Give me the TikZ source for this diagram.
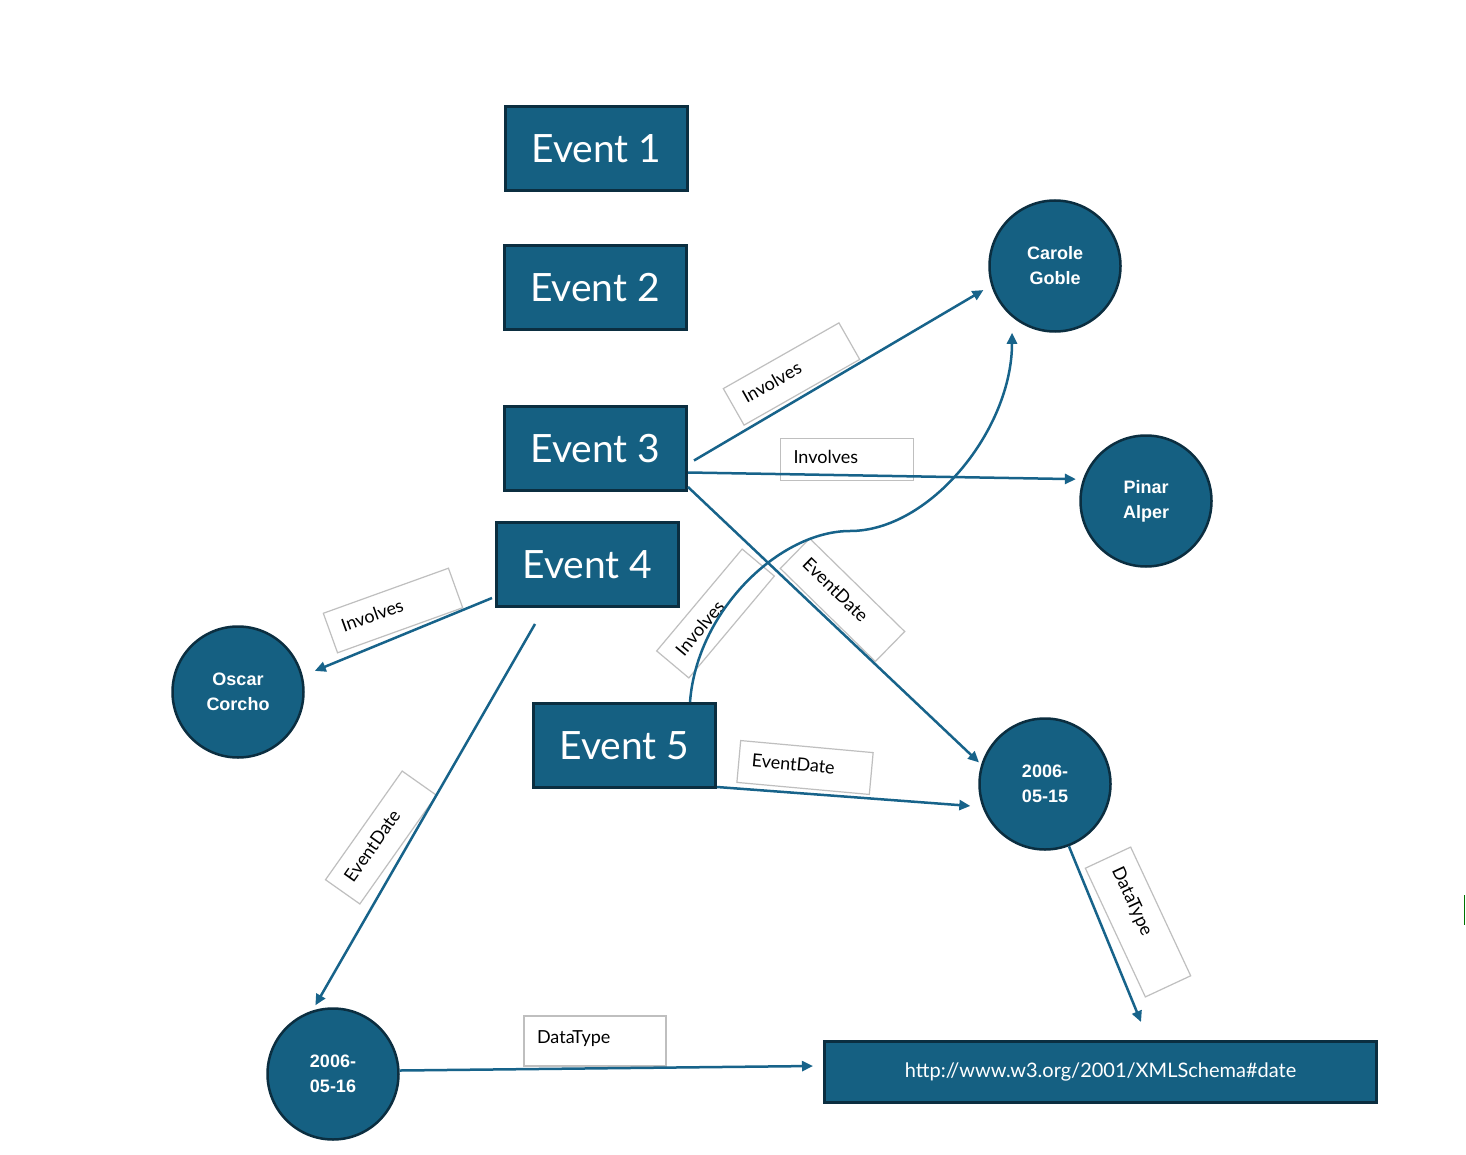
\documentclass[tikz,border=0pt]{standalone}
\usepackage{fontspec}
\setmainfont{Lato}
\newfontfamily\circfont{Liberation Sans}
\usepackage{xcolor}
\usepackage{tikz}
\usetikzlibrary{arrows.meta, positioning, calc}

\definecolor{nodeblue}{HTML}{156082}
\definecolor{nodeline}{HTML}{0B2E40}
\definecolor{linkblue}{HTML}{17638A}
\definecolor{boxgray}{HTML}{BFBFBF}

\tikzset{
  event/.style={draw=nodeline, fill=nodeblue, line width=3pt, text=white,
    minimum width=182pt, minimum height=84pt, inner sep=0pt,
    font=\fontsize{39}{44}\selectfont},
  person/.style={circle, draw=nodeline, fill=nodeblue, line width=2.5pt, text=white,
    minimum size=131pt, inner sep=0pt, align=center,
    font=\circfont\bfseries\fontsize{18}{25}\selectfont},
  urlbox/.style={draw=nodeline, fill=nodeblue, line width=3pt, text=white,
    minimum width=552pt, minimum height=61pt, inner sep=0pt,
    font=\fontsize{20}{24}\selectfont},
  relbox/.style={draw=boxgray, line width=1.2pt, align=left,
    text width=107pt, inner xsep=13pt, inner ysep=4pt,
    text height=21pt, text depth=13pt, font=\fontsize{18}{22}\selectfont},
  typebox/.style={relbox, text width=116pt, text height=23pt, text depth=19pt},
  edge/.style={draw=linkblue, line width=2.5pt, -{Triangle[length=11pt, width=10pt]}}
}

\begin{document}
\begin{tikzpicture}[x=1pt, y=-1pt]
  \fill[white] (0,0) rectangle (1466,1155);
  \useasboundingbox (0,0) rectangle (1466,1155);

  % events
  \node[event] (e1) at (596.5,149) {Event 1};
  \node[event] (e2) at (595,287.5) {Event 2};
  \node[event] (e3) at (595.5,448.5) {Event 3};
  \node[event] (e4) at (587.5,564.5) {Event 4};
  \node[event] (e5) at (624.5,745.5) {Event 5};

  % people and dates
  \node[person] (cg) at (1055,266) {Carole\\Goble};
  \node[person] (pa) at (1146,501) {Pinar\\Alper};
  \node[person] (oc) at (238,692) {Oscar\\Corcho};
  \node[person] (d15) at (1045,784) {2006-\\05-15};
  \node[person] (d16) at (333,1074) {2006-\\05-16};
  \node[urlbox] (url) at (1100.5,1072) {http://www.w3.org/2001/XMLSchema\#date};

  % edge labels
  \node[relbox, rotate=29.6] (l1) at (791.5,374) {Involves};
  \node[relbox] (l2) at (847,459.5) {Involves};
  \node[relbox, rotate=-44.4] (l3) at (842.5,600) {EventDate};
  \node[relbox, rotate=19.8] (l4) at (393,610.5) {Involves};
  \node[relbox, rotate=54.8] (l5) at (381,837.5) {EventDate};
  \node[relbox, rotate=50] (l6) at (715.5,613.5) {Involves};
  \node[relbox, rotate=-5.2] (l7) at (805,767.5) {EventDate};
  \node[typebox, rotate=-65] (l8) at (1138,922) {DataType};
  \node[typebox] (l9) at (595,1041) {DataType};

  % edges
  \draw[edge, shorten >=9pt] ($(e3.east)+(6,12)$) -- (cg.197);
  \draw[edge, shorten >=7pt] ($(e3.east)+(0,24)$) -- (pa.161);
  \draw[edge, shorten >=3pt] ($(e3.south east)+(0,-5)$) -- (d15.163);
  \draw[edge, shorten >=13pt] ($(e4.south west)+(-3,-10)$) -- (oc.14);
  \draw[edge, shorten >=6pt] ($(e4.south west)+(40,16)$) -- (d16.108);
  \coordinate (bend) at (850,531);
  \draw[edge] ($(e5.north east)+(-27,0)$) .. controls +(7,-92) and +(-70,0) .. (bend)
    .. controls +(80,0) and +(0,97) .. ($(cg.south)+(-43,0)$);
  \draw[edge, shorten >=12pt] ($(e5.south east)+(0,-2)$) -- (d15.200);
  \draw[edge] (d15.291.6) -- ($(url.north)+(40.5,-18)$);
  \draw[edge] (d16.3) -- ($(url.west)+(-10,-6)$);

  \draw[green!45!black, line width=1.5pt] (1464.5,895) -- (1464.5,925);
\end{tikzpicture}
\end{document}
